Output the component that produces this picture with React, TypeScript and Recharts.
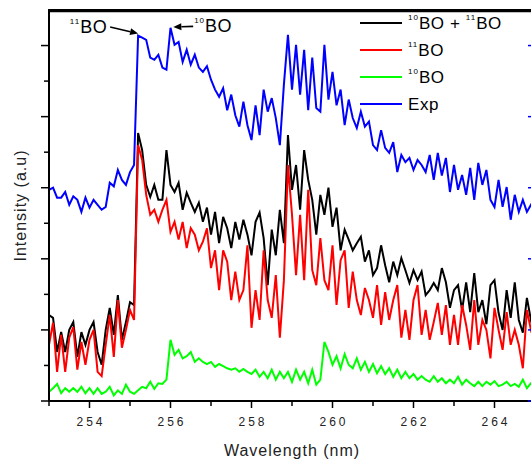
import React from 'react';
import { LineChart, Line, XAxis, YAxis, Legend, ReferenceLine } from 'recharts';

const FONT = '"Liberation Sans", Arial, Helvetica, sans-serif';

const wavelength = [
  253.0, 253.1, 253.2, 253.3, 253.4, 253.5, 253.6, 253.7, 253.8, 253.9,
  254.0, 254.1, 254.2, 254.3, 254.4, 254.5, 254.6, 254.7, 254.8, 254.9,
  255.0, 255.1, 255.2, 255.3, 255.4, 255.5, 255.6, 255.7, 255.8, 255.9,
  256.0, 256.1, 256.2, 256.3, 256.4, 256.5, 256.6, 256.7, 256.8, 256.9,
  257.0, 257.1, 257.2, 257.3, 257.4, 257.5, 257.6, 257.7, 257.8, 257.9,
  258.0, 258.1, 258.2, 258.3, 258.4, 258.5, 258.6, 258.7, 258.8, 258.9,
  259.0, 259.1, 259.2, 259.3, 259.4, 259.5, 259.6, 259.7, 259.8, 259.9,
  260.0, 260.1, 260.2, 260.3, 260.4, 260.5, 260.6, 260.7, 260.8, 260.9,
  261.0, 261.1, 261.2, 261.3, 261.4, 261.5, 261.6, 261.7, 261.8, 261.9,
  262.0, 262.1, 262.2, 262.3, 262.4, 262.5, 262.6, 262.7, 262.8, 262.9,
  263.0, 263.1, 263.2, 263.3, 263.4, 263.5, 263.6, 263.7, 263.8, 263.9,
  264.0, 264.1, 264.2, 264.3, 264.4, 264.5, 264.6, 264.7, 264.8, 264.9,
  265.0,
];

// 10BO + 11BO (black)
const sumBO = [
  121, 117, 69, 97, 69, 100, 111, 62, 97, 79,
  100, 111, 69, 51, 100, 131, 93, 149, 86, 111,
  139, 135, 377, 353, 304, 287, 304, 283, 283, 353,
  304, 294, 307, 269, 293, 279, 266, 279, 252, 272,
  234, 266, 222, 259, 243, 215, 252, 227, 255, 234,
  205, 252, 265, 229, 163, 241, 205, 269, 222, 374,
  297, 332, 269, 353, 311, 283, 234, 290, 262, 300,
  245, 272, 212, 241, 227, 212, 222, 231, 196, 212,
  177, 187, 219, 191, 167, 196, 177, 201, 184, 166,
  184, 170, 182, 149, 156, 166, 156, 187, 167, 131,
  156, 163, 128, 167, 125, 180, 125, 142, 108, 163,
  170, 124, 100, 156, 117, 167, 114, 96, 145, 114,
  128,
];

// 11BO (red)
const bo11 = [
  79, 110, 41, 93, 41, 89, 104, 44, 83, 51,
  86, 100, 41, 35, 79, 121, 62, 142, 75, 100,
  128, 114, 360, 339, 290, 262, 269, 252, 269, 283,
  238, 252, 227, 252, 215, 243, 234, 212, 224, 243,
  187, 212, 156, 212, 196, 142, 182, 142, 156, 219,
  103, 156, 114, 212, 142, 117, 177, 89, 170, 332,
  262, 177, 262, 170, 297, 184, 163, 229, 170, 156,
  219, 135, 198, 212, 131, 182, 142, 121, 159, 142,
  117, 163, 107, 153, 114, 142, 163, 89, 128, 86,
  142, 163, 93, 128, 86, 111, 138, 93, 135, 79,
  121, 79, 135, 107, 72, 142, 79, 114, 100, 60,
  131, 100, 72, 125, 79, 100, 79, 46, 128, 100,
  114,
];

// 10BO (green)
const bo10 = [
  13, 18, 24, 11, 18, 13, 18, 13, 20, 11,
  18, 10, 18, 10, 13, 20, 8, 15, 10, 23,
  13, 10, 15, 20, 18, 27, 17, 25, 24, 30,
  86, 65, 72, 60, 63, 69, 55, 60, 55, 52,
  55, 48, 52, 49, 46, 44, 46, 41, 45, 41,
  38, 44, 34, 41, 32, 44, 30, 41, 32, 41,
  27, 44, 30, 41, 25, 44, 23, 30, 83, 69,
  51, 63, 46, 66, 51, 46, 60, 44, 55, 41,
  52, 39, 49, 38, 46, 34, 44, 32, 41, 32,
  38, 30, 35, 30, 27, 35, 27, 32, 25, 30,
  25, 34, 23, 30, 25, 21, 27, 21, 27, 23,
  28, 21, 23, 27, 21, 24, 20, 30, 18, 25,
  23,
];

// Experiment (blue)
const expData = [
  297, 300, 286, 286, 294, 276, 288, 283, 266, 286,
  272, 283, 276, 269, 273, 307, 302, 325, 311, 304,
  322, 332, 514, 511, 508, 483, 480, 487, 469, 466,
  525, 501, 505, 477, 494, 473, 487, 469, 463, 471,
  452, 438, 428, 440, 409, 431, 402, 386, 421, 388,
  367, 416, 374, 438, 407, 426, 398, 360, 445, 515,
  438, 501, 431, 494, 409, 483, 412, 407, 501, 424,
  463, 416, 438, 388, 424, 398, 384, 407, 386, 393,
  360, 353, 381, 356, 349, 364, 322, 346, 336, 342,
  325, 339, 332, 322, 346, 311, 349, 317, 342, 294,
  332, 297, 318, 290, 328, 283, 335, 304, 325, 283,
  273, 311, 273, 301, 255, 290, 266, 283, 266, 276,
  269,
];

const seriesNames = ['10BO + 11BO', '11BO', '10BO', 'Exp'];
const seriesColors = ['#000000', '#ff0000', '#00ff00', '#0000ff'];

const xMin = 253;
const xMax = 265;
const xTicks = [253, 254, 255, 256, 257, 258, 259, 260, 261, 262, 263, 264, 265];
const xLabelTicks = [254, 256, 258, 260, 262, 264];
const yTicks = [0, 50, 100, 150, 200, 250, 300, 350, 400, 450, 500];
const yMajorTicks = [0, 100, 200, 300, 400, 500];
const yMax = 550;

const annotations = [
  { label: '11BO', from: { x: 254.51, y: 526 }, to: { x: 255.2, y: 517 }, anchor: 'end' },
  { label: '10BO', from: { x: 256.56, y: 527 }, to: { x: 256.07, y: 526 }, anchor: 'start' },
];

const data = wavelength.map((wl, i) => ({
  wl,
  sum: sumBO[i],
  b11: bo11[i],
  b10: bo10[i],
  exp: expData[i],
}));

function IsoText(props: any) {
  const { x, y, text, fontSize, supSize, raise, anchor, spacing } = props;
  const parts = String(text).split(/(\d+)/).filter((s: string) => s.length > 0);
  let lifted = false;
  const spans: any[] = [];
  parts.forEach((p: string, i: number) => {
    if (/^\d+$/.test(p)) {
      spans.push(
        <tspan key={i} fontSize={supSize} dy={lifted ? 0 : -raise} letterSpacing={1}>
          {p}
        </tspan>
      );
      lifted = true;
    } else {
      spans.push(
        <tspan key={i} fontSize={fontSize} dy={lifted ? raise : 0}>
          {p}
        </tspan>
      );
      lifted = false;
    }
  });
  return (
    <text x={x} y={y} textAnchor={anchor} fontFamily={FONT} fill="#000" letterSpacing={spacing}>
      {spans}
    </text>
  );
}

const XTick = (props: any) => {
  const { x, y, payload } = props;
  const v = payload.value;
  const major = xLabelTicks.includes(v);
  return (
    <g>
      <line x1={x} x2={x} y1={y} y2={y + (major ? 7 : 5)} stroke="#000" strokeWidth={1.5} />
      {major && (
        <text x={x + 1.5} y={y + 25} textAnchor="middle" fontSize={12} letterSpacing={3} fontFamily={FONT} fill="#222">
          {v}
        </text>
      )}
    </g>
  );
};

const YTickLeft = (props: any) => {
  const { x, y, payload } = props;
  const major = yMajorTicks.includes(payload.value);
  return <line x1={x - (major ? 8 : 5)} x2={x} y1={y} y2={y} stroke="#000" strokeWidth={1.5} />;
};

const YTickRight = (props: any) => {
  const { x, y } = props;
  return <line x1={x - 7} x2={x} y1={y} y2={y} stroke="#0000ff" strokeWidth={1.5} />;
};

const XTitle = (props: any) => {
  const vb = props.viewBox || { x: 49, y: 401, width: 486, height: 65 };
  return (
    <text x={vb.x + vb.width / 2} y={vb.y + 55} textAnchor="middle" fontSize={16} letterSpacing={1} fontFamily={FONT} fill="#222">
      Wavelength (nm)
    </text>
  );
};

const YTitle = (props: any) => {
  const vb = props.viewBox || { x: 0, y: 10, width: 49, height: 391 };
  const cy = vb.y + vb.height / 2;
  return (
    <text transform={`translate(26, ${cy}) rotate(-90)`} textAnchor="middle" fontSize={16} letterSpacing={1} fontFamily={FONT} fill="#222">
      Intensity (a.u)
    </text>
  );
};

const makeArrow = (label: string, anchor: string) => (p: any) => {
  const { x1, y1, x2, y2 } = p;
  const ang = Math.atan2(y2 - y1, x2 - x1);
  const L = 8;
  const W = 3.5;
  const c = Math.cos(ang);
  const s = Math.sin(ang);
  const bx = x2 - L * c;
  const by = y2 - L * s;
  const pts = `${x2},${y2} ${bx + W * s},${by - W * c} ${bx - W * s},${by + W * c}`;
  const tx = anchor === 'end' ? x1 - 3 : x1 + 1;
  return (
    <g>
      <line x1={x1} y1={y1} x2={bx} y2={by} stroke="#000" strokeWidth={1.6} />
      <polygon points={pts} fill="#000" />
      <IsoText x={tx} y={y1 + 6} text={label} fontSize={18} supSize={8} raise={9} anchor={anchor} spacing={0.5} />
    </g>
  );
};

// top frame drawn as a horizontal segment through the plot's upper bound
const FrameShape = (p: any) => {
  const { x1, y1, x2, y2 } = p;
  return <path d={`M${x1 - 1},${y1 + 0.5}L${x2 + 2},${y2 + 0.5}`} stroke="#000000" strokeWidth={2.2} fill="none" />;
};

const renderLegend = () => {
  return (
    <svg width={175} height={110} style={{ display: 'block' }}>
      {seriesNames.map((name, i) => {
        const cy = 13 + i * 27;
        return (
          <g key={i}>
            <line x1={0} x2={42} y1={cy} y2={cy} stroke={seriesColors[i]} strokeWidth={2} />
            <IsoText x={48} y={cy + 6} text={name} fontSize={17} supSize={8} raise={9} anchor="start" spacing={0.6} />
          </g>
        );
      })}
    </svg>
  );
};

export default function App() {
  return (
    <div style={{ position: 'absolute', left: 0, top: 0, width: 531, height: 466, overflow: 'hidden', background: '#fff' }}>
      <LineChart width={545} height={466} data={data} margin={{ top: 10, right: 0, bottom: 0, left: 0 }}>
        <XAxis
          dataKey="wl"
          type="number"
          domain={[xMin, xMax]}
          ticks={xTicks}
          interval={0}
          tickSize={0}
          tickMargin={0}
          tick={<XTick />}
          axisLine={{ stroke: '#000', strokeWidth: 2 }}
          height={65}
          allowDataOverflow
          label={<XTitle />}
        />
        <YAxis
          yAxisId="left"
          type="number"
          domain={[0, yMax]}
          ticks={yTicks}
          interval={0}
          tickSize={0}
          tickMargin={0}
          tick={<YTickLeft />}
          axisLine={{ stroke: '#000', strokeWidth: 2 }}
          width={49}
          allowDataOverflow
          label={<YTitle />}
        />
        <YAxis
          yAxisId="right"
          orientation="right"
          type="number"
          domain={[0, yMax]}
          ticks={yMajorTicks}
          interval={0}
          tickSize={0}
          tickMargin={0}
          tick={<YTickRight />}
          axisLine={{ stroke: '#0000ff', strokeWidth: 2 }}
          width={10}
          allowDataOverflow
        />
        <Legend
          layout="vertical"
          align="center"
          verticalAlign="middle"
          content={renderLegend}
          wrapperStyle={{ left: 360, top: 10, width: 175, height: 110 }}
        />
        <Line yAxisId="left" type="linear" dataKey="sum" name={seriesNames[0]} stroke={seriesColors[0]} strokeWidth={2} dot={false} isAnimationActive={false} />
        <Line yAxisId="left" type="linear" dataKey="b11" name={seriesNames[1]} stroke={seriesColors[1]} strokeWidth={2} dot={false} isAnimationActive={false} />
        <Line yAxisId="left" type="linear" dataKey="b10" name={seriesNames[2]} stroke={seriesColors[2]} strokeWidth={2} dot={false} isAnimationActive={false} />
        <Line yAxisId="right" type="linear" dataKey="exp" name={seriesNames[3]} stroke={seriesColors[3]} strokeWidth={2} dot={false} isAnimationActive={false} />
        <ReferenceLine
          yAxisId="left"
          segment={[{ x: xMin, y: yMax - 1 }, { x: xMax, y: yMax - 1 }]}
          ifOverflow="visible"
          shape={FrameShape}
        />
        {annotations.map((a, i) => (
          <ReferenceLine
            key={i}
            yAxisId="left"
            segment={[a.from, a.to]}
            ifOverflow="visible"
            shape={makeArrow(a.label, a.anchor)}
          />
        ))}
      </LineChart>
      <div style={{ position: 'absolute', left: 48, top: 9, width: 490, height: 2, background: '#000', zIndex: 5 }} />
    </div>
  );
}
